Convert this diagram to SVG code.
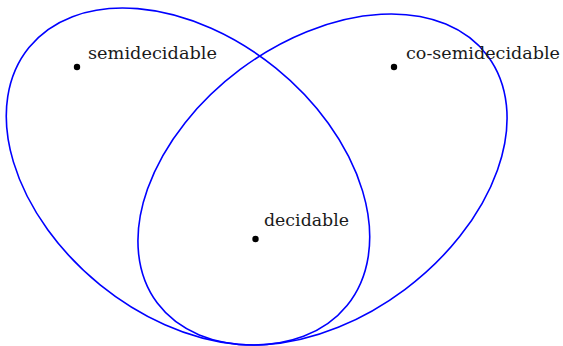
<svg xmlns="http://www.w3.org/2000/svg" width="563" height="346" viewBox="0 0 563 346">
<style>
.set{fill:none;stroke:#0000ff;stroke-width:1.6}
.dot{fill:#000}
.lbl{font-family:"DejaVu Serif","Liberation Serif",serif;font-size:17px;fill:#1a1a1a}
</style>
<rect width="563" height="346" fill="#fff"/>
<g id="sets">
<ellipse id="semi-set" class="set" cx="188" cy="176.5" rx="204.8" ry="139.5" transform="rotate(39.05 188 176.5)"/>
<ellipse id="cosemi-set" class="set" cx="322.5" cy="179.5" rx="206.3" ry="137.4" transform="rotate(-36.8 322.5 179.5)"/>
</g>
<g id="semidecidable"><circle class="dot" cx="77" cy="67" r="3.2"/><text class="lbl" x="88" y="59" textLength="129" lengthAdjust="spacingAndGlyphs">semidecidable</text></g>
<g id="co-semidecidable"><circle class="dot" cx="394" cy="67" r="3.2"/><text class="lbl" x="406" y="59" textLength="154" lengthAdjust="spacingAndGlyphs">co-semidecidable</text></g>
<g id="decidable"><circle class="dot" cx="255.5" cy="239" r="3.2"/><text class="lbl" x="264" y="226" textLength="85" lengthAdjust="spacingAndGlyphs">decidable</text></g>
</svg>
